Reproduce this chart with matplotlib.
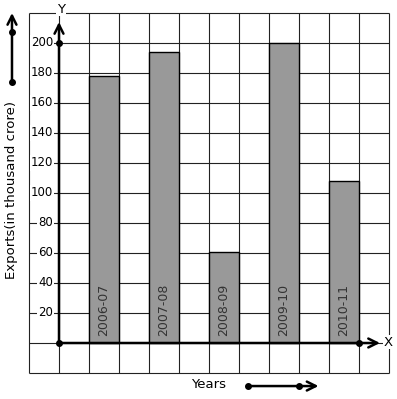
import matplotlib
matplotlib.use("Agg")
import matplotlib.pyplot as plt

years = ["2006-07", "2007-08", "2008-09", "2009-10", "2010-11"]
exports = [178, 194, 61, 200, 108]
bar_left = [1, 3, 5, 7, 9]
y_ticks = [20, 40, 60, 80, 100, 120, 140, 160, 180, 200]

fig = plt.figure(figsize=(3.97, 3.99), dpi=100)
ax = fig.add_axes([0, 0, 1, 1])
ax.set_xlim(-59 / 30, 338 / 30)
ax.set_ylim(-56 / 1.5, 343 / 1.5)
ax.axis("off")

# graph paper grid
grid_col = "#222222"
ax.vlines(range(-1, 12), -20, 220, color=grid_col, lw=0.8, zorder=1)
ax.hlines(range(-20, 221, 20), -1, 11, color=grid_col, lw=0.8, zorder=1)

# bars
ax.bar(bar_left, exports, width=1, align="edge", color="#999999",
       edgecolor="black", lw=1, zorder=2)
for x, lab in zip(bar_left, years):
    ax.text(x + 0.5, 5, lab, rotation=90, ha="center", va="bottom",
            fontsize=9, color="#333333", zorder=3)

# axes with arrows
ax.annotate("", xy=(0, 214), xytext=(0, 0),
            arrowprops=dict(arrowstyle="->", lw=1.8, color="black",
                            mutation_scale=16, shrinkA=0, shrinkB=0), zorder=4)
ax.annotate("", xy=(10.7, 0), xytext=(0, 0),
            arrowprops=dict(arrowstyle="->", lw=1.8, color="black",
                            mutation_scale=16, shrinkA=0, shrinkB=0), zorder=4)
ax.plot([0, 0, 10], [0, 200, 0], "o", color="black", ms=4, zorder=5)

ax.text(0.07, 222.5, "Y", ha="center", va="center", fontsize=9.5,
        bbox=dict(facecolor="white", edgecolor="none", pad=0.5), zorder=4)
ax.text(10.97, 0.5, "X", ha="center", va="center", fontsize=9.5,
        bbox=dict(facecolor="white", edgecolor="none", pad=0.5), zorder=4)

for v in y_ticks:
    ax.text(-0.2, v, str(v), ha="right", va="center", fontsize=8.5,
            bbox=dict(facecolor="white", edgecolor="none", pad=0.8), zorder=4)

# scale arrows in the margins
ax.annotate("", xy=(-1.567, 220), xytext=(-1.567, 174),
            arrowprops=dict(arrowstyle="->", lw=1.8, color="black",
                            mutation_scale=16, shrinkA=0, shrinkB=0))
ax.plot([-1.567, -1.567], [207.3, 174], "o", color="black", ms=4)
ax.annotate("", xy=(8.65, -28.7), xytext=(6.3, -28.7),
            arrowprops=dict(arrowstyle="->", lw=1.8, color="black",
                            mutation_scale=16, shrinkA=0, shrinkB=0))
ax.plot([6.3, 8.0], [-28.7, -28.7], "o", color="black", ms=4)

ax.text(5.0, -28, "Years", ha="center", va="center", fontsize=9.5)
ax.text(-1.57, 102, "Exports(in thousand crore)", rotation=90,
        ha="center", va="center", fontsize=9.5)

fig.savefig("out.png", dpi=100)
